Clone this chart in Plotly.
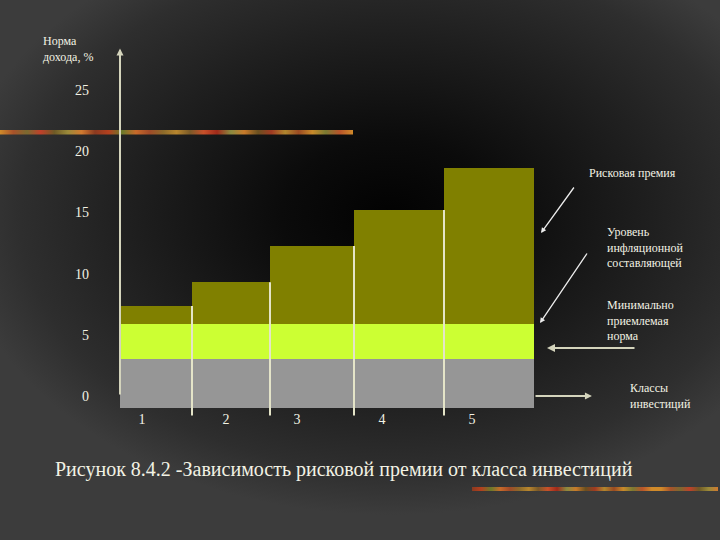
import base64
import plotly.graph_objects as go

# ---------------- data ----------------
classes = ["1", "2", "3", "4", "5"]
min_rate = [3.0, 3.0, 3.0, 3.0, 3.0]          # минимально приемлемая норма (серый)
inflation = [2.9, 2.9, 2.9, 2.9, 2.9]         # инфляционная составляющая (салатовый)
risk_premium = [1.45, 3.4, 6.35, 9.3, 12.7]   # рисковая премия (оливковый)
y_ticks = [0, 5, 10, 15, 20, 25]

# ---------------- layout / style ----------------
W, H = 720, 540
bar_widths = [0.8, 0.8667, 0.9333, 1.0, 1.0]
label_offsets = [0.244, 0.378, 0.30, 0.311, 0.311]
x_start = 0.5
floor = -1.0          # visual overhang of the gray block below the axis
sep_bottom = -1.6
X_RANGE = [-0.8333, 7.1667]
Y_RANGE = [-11.765, 32.353]

GRAY = "#969696"
GREEN = "#ccff33"
OLIVE = "#808000"
LINE = "#d4d4bc"
TXT = "#f2f2e4"
FONT = "Liberation Serif, Times New Roman, serif"

lefts, centers = [], []
pos = x_start
for w in bar_widths:
    lefts.append(pos)
    centers.append(pos + w / 2)
    pos += w
right_end = pos
tick_pos = [l + o for l, o in zip(lefts, label_offsets)]

base_green = min_rate
base_olive = [a + b for a, b in zip(min_rate, inflation)]
tops = [a + b for a, b in zip(base_olive, risk_premium)]

# ---------------- background (svg) ----------------
stripe_cols = ["#d08a2a", "#a8522a", "#7a6a30", "#c0402a", "#6e5a26", "#9a8a3a", "#d07a30",
               "#8a3a20", "#b4401e", "#6a7a2a", "#c86a2a", "#a04a28", "#8c6a2a", "#b8862e",
               "#7a5a28", "#c8502a", "#a02a1a", "#8a8a40", "#c87a2a", "#6a5020", "#a03a22",
               "#b0862e", "#9a4a22", "#c88a2a", "#7a7a32", "#b8542a", "#d08a2a"]


def stripe_grad(gid, shift=0):
    cols = stripe_cols[shift:] + stripe_cols[:shift]
    n = len(cols) - 1
    stops = "".join(f'<stop offset="{i / n:.3f}" stop-color="{c}"/>' for i, c in enumerate(cols))
    return f'<linearGradient id="{gid}" x1="0" y1="0" x2="1" y2="0">{stops}</linearGradient>'


svg = f'''<svg xmlns="http://www.w3.org/2000/svg" width="{W}" height="{H}" viewBox="0 0 {W} {H}">
<defs>
<radialGradient id="bg" gradientUnits="userSpaceOnUse" cx="390" cy="215" r="300"
 gradientTransform="translate(390 215) scale(1.45 1) translate(-390 -215)">
<stop offset="0" stop-color="#020202"/>
<stop offset="0.25" stop-color="#0b0b0b"/>
<stop offset="0.6" stop-color="#1f1f1f"/>
<stop offset="0.85" stop-color="#2e2e2e"/>
<stop offset="1" stop-color="#3c3c3c"/>
</radialGradient>
{stripe_grad("s1")}
{stripe_grad("s2", 7)}
</defs>
<rect x="0" y="0" width="{W}" height="{H}" fill="#3c3c3c"/>
<rect x="0" y="0" width="{W}" height="{H}" fill="url(#bg)"/>
<rect x="0" y="130" width="353" height="4.5" fill="url(#s1)"/>
<rect x="472" y="487" width="246" height="4" fill="url(#s2)"/>
</svg>'''
bg_uri = "data:image/svg+xml;base64," + base64.b64encode(svg.encode("utf-8")).decode("ascii")

# ---------------- figure ----------------
fig = go.Figure()
fig.add_trace(go.Bar(x=centers, y=[m - floor for m in min_rate], base=[floor] * len(classes),
                     width=bar_widths, marker=dict(color=GRAY, line=dict(width=0)),
                     name="Минимально приемлемая норма", hoverinfo="skip"))
fig.add_trace(go.Bar(x=centers, y=inflation, base=base_green, width=bar_widths,
                     marker=dict(color=GREEN, line=dict(width=0)),
                     name="Уровень инфляционной составляющей", hoverinfo="skip"))
fig.add_trace(go.Bar(x=centers, y=risk_premium, base=base_olive, width=bar_widths,
                     marker=dict(color=OLIVE, line=dict(width=0)),
                     name="Рисковая премия", hoverinfo="skip"))

# separators (right edge of each bar except the last)
shapes = []
for i in range(len(classes) - 1):
    xe = lefts[i] + bar_widths[i]
    shapes.append(dict(type="line", xref="x", yref="y", x0=xe, x1=xe, y0=tops[i], y1=sep_bottom,
                       line=dict(color="#e4e4c8", width=2), layer="above"))


def px(x):
    return x / W


def py(y):
    return 1 - y / H


ann = []
# y axis arrow
ann.append(dict(x=x_start, y=28.4, xref="x", yref="y", ax=x_start, ay=0, axref="x", ayref="y",
                showarrow=True, arrowhead=2, arrowsize=0.7, arrowwidth=2, arrowcolor=LINE, text=""))
# x axis arrow
ann.append(dict(x=5.744, y=0, xref="x", yref="y", ax=right_end, ay=0, axref="x", ayref="y",
                showarrow=True, arrowhead=2, arrowsize=0.7, arrowwidth=2, arrowcolor=LINE, text=""))
# pointer arrows
for hx, hy, tx, ty, wdt, col in [(541, 233, 575, 186, 1.3, "#ececec"),
                                 (540, 323, 588, 252, 1.3, "#ececec"),
                                 (547, 348, 636, 348, 2, LINE)]:
    ann.append(dict(x=px(hx), y=py(hy), xref="paper", yref="paper", ax=tx - hx, ay=ty - hy,
                    showarrow=True, arrowhead=2, arrowsize=0.8, arrowwidth=wdt, arrowcolor=col, text=""))


def label(text, x, y, size=12, yanchor="top"):
    ann.append(dict(x=px(x), y=py(y), xref="paper", yref="paper", text=text, showarrow=False,
                    xanchor="left", yanchor=yanchor, align="left",
                    font=dict(family=FONT, size=size, color=TXT)))


label("Норма<br>дохода, %", 41, 32)
label("Рисковая премия", 587, 164)
label("Уровень<br>инфляционной<br>составляющей", 605, 223)
label("Минимально<br>приемлемая<br>норма", 605, 296)
label("Классы<br>инвестиций", 628, 379)
ann.append(dict(x=px(344), y=py(469), xref="paper", yref="paper",
                text="Рисунок 8.4.2 -Зависимость рисковой премии от класса инвестиций",
                showarrow=False, xanchor="center", yanchor="middle",
                font=dict(family=FONT, size=20, color=TXT)))

fig.update_layout(
    width=W, height=H,
    margin=dict(l=0, r=0, t=0, b=0),
    paper_bgcolor="#2a2a2a",
    plot_bgcolor="rgba(0,0,0,0)",
    barmode="overlay",
    bargap=0,
    showlegend=False,
    shapes=shapes,
    annotations=ann,
    images=[dict(source=bg_uri, xref="paper", yref="paper", x=0, y=1, sizex=1, sizey=1,
                 xanchor="left", yanchor="top", sizing="stretch", layer="below")],
    xaxis=dict(range=X_RANGE, domain=[0, 1], showgrid=False, zeroline=False, showline=False,
               tickmode="array", tickvals=tick_pos, ticktext=classes, ticks="",
               anchor="free", position=py(409),
               tickfont=dict(family=FONT, size=14, color=TXT), fixedrange=True),
    yaxis=dict(range=Y_RANGE, domain=[0, 1], showgrid=False, zeroline=False, showline=False,
               tickmode="array", tickvals=y_ticks, ticktext=[str(v) for v in y_ticks], ticks="",
               anchor="free", position=px(89),
               tickfont=dict(family=FONT, size=14, color=TXT), fixedrange=True),
)

fig.write_html("out.html")
